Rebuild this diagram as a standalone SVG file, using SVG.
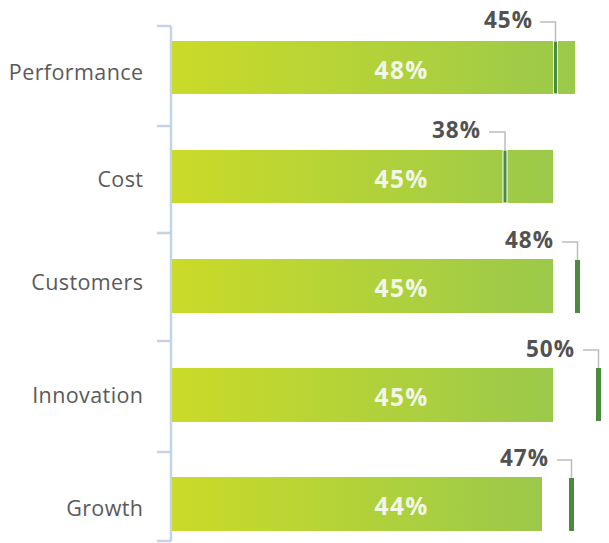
<svg xmlns="http://www.w3.org/2000/svg" width="609" height="543" viewBox="0 0 609 543">
<defs>
<linearGradient id="g" x1="0" y1="0" x2="1" y2="0">
<stop offset="0" stop-color="#cadb28"/>
<stop offset="1" stop-color="#9bc94b"/>
</linearGradient>
<style>
.cat{font-family:"Open Sans","Noto Sans",sans-serif;font-size:21.5px;letter-spacing:0.4px;fill:#5a5a5a;text-anchor:end}
.val{font-family:"Open Sans","Noto Sans",sans-serif;font-size:24.5px;letter-spacing:1.3px;font-weight:bold;fill:#f2f6e6;text-anchor:middle}
.pct{font-family:"Open Sans","Noto Sans",sans-serif;font-size:22.5px;letter-spacing:1px;font-weight:bold;fill:#525252;text-anchor:end}
.bar{fill:url(#g)}
.mk{fill:#4b8a3f}
.mki{fill:#4b8a3f;stroke:#ffffff;stroke-width:1}
.ax{stroke:#c4d3e5;stroke-width:2.5;fill:none}
.ld{stroke:#bdbdbd;stroke-width:1.5;fill:none}
</style>
</defs>
<g id="axis">
<path class="ax" d="M171 26V541M157 26H171M157 126H171M157 233H171M157 341H171M157 452H171M157 541H171"/>
</g>
<g id="performance">
<text class="cat" x="143.4" y="80">Performance</text>
<rect class="bar" x="172" y="41" width="403" height="53"/>
<text class="val" x="401.6" y="79">48%</text>
<rect class="mki" x="553.5" y="41" width="4" height="53"/>
<text class="pct" x="533" y="28">45%</text>
</g>
<g id="cost">
<text class="cat" x="143.4" y="187">Cost</text>
<rect class="bar" x="172" y="150" width="381" height="53"/>
<text class="val" x="401.6" y="188">45%</text>
<rect class="mki" x="503" y="150" width="4" height="53"/>
<text class="pct" x="481" y="138">38%</text>
</g>
<g id="customers">
<text class="cat" x="143.4" y="290">Customers</text>
<rect class="bar" x="172" y="259" width="381" height="54"/>
<text class="val" x="401.6" y="297">45%</text>
<rect class="mk" x="575" y="260" width="5" height="53"/>
<text class="pct" x="554" y="248">48%</text>
</g>
<g id="innovation">
<text class="cat" x="143.4" y="403">Innovation</text>
<rect class="bar" x="172" y="368" width="381" height="54"/>
<text class="val" x="401.6" y="406">45%</text>
<rect class="mk" x="596" y="368" width="5" height="53"/>
<text class="pct" x="575" y="357">50%</text>
</g>
<g id="growth">
<text class="cat" x="143.4" y="516">Growth</text>
<rect class="bar" x="172" y="477" width="370" height="54"/>
<text class="val" x="401.6" y="515">44%</text>
<rect class="mk" x="569" y="478" width="5" height="53"/>
<text class="pct" x="549" y="466">47%</text>
</g>
<g id="connectors">
<path class="ld" d="M540 22H555.5V41"/>
<path class="ld" d="M489 132H505V150"/>
<path class="ld" d="M562 242H577.5V260"/>
<path class="ld" d="M583 350H598.5V368"/>
<path class="ld" d="M557 460H571.5V478"/>
</g>
</svg>
